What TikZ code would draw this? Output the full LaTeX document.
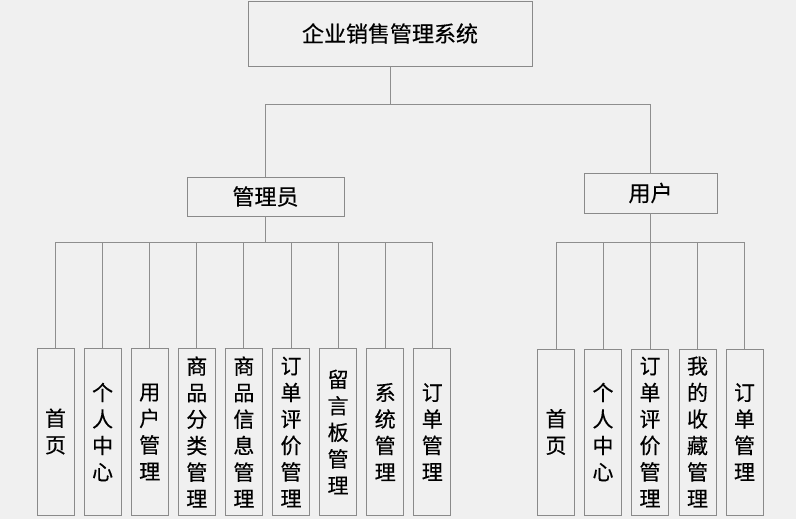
\documentclass[tikz,border=0pt]{standalone}
\usepackage{fontspec}
\newfontfamily\cjk[FakeBold=0.35]{Noto Sans CJK SC}
\definecolor{bgc}{HTML}{F0F0F0}
\definecolor{linec}{HTML}{8E8E8E}
\definecolor{boxc}{HTML}{8A8A8A}
\begin{document}
\begin{tikzpicture}[x=1pt,y=-1pt,
  box/.style={draw=boxc, line width=0.9pt, inner sep=0pt, font=\cjk\fontsize{22}{26}\selectfont},
  leaf/.style={draw=boxc, line width=0.9pt, inner sep=0pt, minimum width=37pt, minimum height=167pt, align=center, font=\cjk\fontsize{21}{26.5}\selectfont},
  conn/.style={draw=linec, line width=0.9pt}]
\fill[bgc] (0,0) rectangle (796,519);
\useasboundingbox (0,0) rectangle (796,519);
% main boxes
\node[box, minimum width=284pt, minimum height=65pt] (top) at (390,33.5) {企业销售管理系统};
\node[box, minimum width=157pt, minimum height=39pt] (admin) at (265.5,196.5) {管理员};
\node[box, minimum width=133pt, minimum height=40pt] (user) at (650.5,193) {用户};
% admin leaves
\node[leaf] (a1) at (55.5,431.5) {首\\页};
\node[leaf] (a2) at (102.6,432) {个\\人\\中\\心};
\node[leaf] (a3) at (149.7,432) {用\\户\\管\\理};
\node[leaf] (a4) at (196.8,432) {商\\品\\分\\类\\管\\理};
\node[leaf] (a5) at (243.9,432) {商\\品\\信\\息\\管\\理};
\node[leaf] (a6) at (291,432) {订\\单\\评\\价\\管\\理};
\node[leaf] (a7) at (338.1,432) {留\\言\\板\\管\\理};
\node[leaf] (a8) at (385.2,432) {系\\统\\管\\理};
\node[leaf] (a9) at (432.3,432) {订\\单\\管\\理};
% user leaves
\node[leaf, minimum height=166pt] (u1) at (556,432) {首\\页};
\node[leaf, minimum height=166pt] (u2) at (603,432) {个\\人\\中\\心};
\node[leaf, minimum height=166pt] (u3) at (650,432) {订\\单\\评\\价\\管\\理};
\node[leaf, minimum height=166pt] (u4) at (697.5,432) {我\\的\\收\\藏\\管\\理};
\node[leaf, minimum height=166pt] (u5) at (744.5,432) {订\\单\\管\\理};
% bus coordinates
\coordinate (b0) at (390,104);
\coordinate (ab) at (265.5,242);
\coordinate (ub) at (650.5,242);
% connectors
\draw[conn] (top.south) -- (b0);
\draw[conn] (admin.north) -- (admin.north |- b0) -- (user.north |- b0) -- (user.north);
\draw[conn] (admin.south) -- (ab);
\draw[conn] (a1.north |- ab) -- (a9.north |- ab);
\foreach \n in {a1,a2,a3,a4,a5,a6,a7,a8,a9} {\draw[conn] (\n.north) -- (\n.north |- ab);}
\draw[conn] (user.south) -- (ub);
\draw[conn] (u1.north |- ub) -- (u5.north |- ub);
\foreach \n in {u1,u2,u3,u4,u5} {\draw[conn] (\n.north) -- (\n.north |- ub);}
\end{tikzpicture}
\end{document}
